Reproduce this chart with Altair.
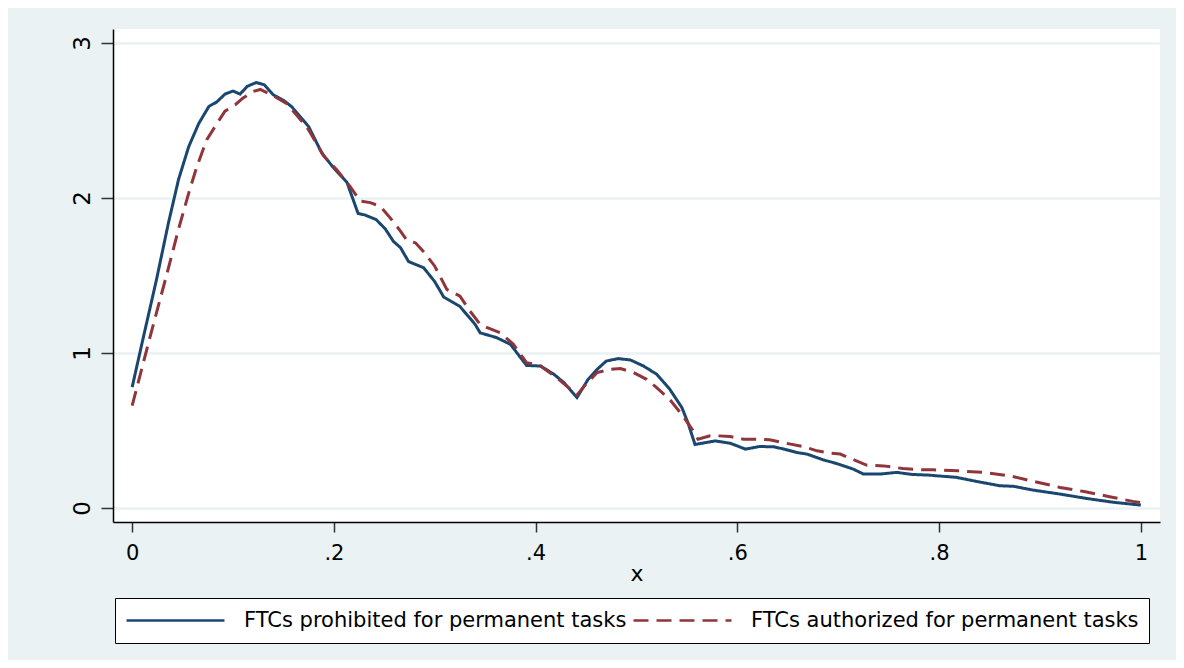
import altair as alt
import pandas as pd

# Series: FTCs prohibited for permanent tasks (solid navy)
x_prohibited = [0.000, 0.010, 0.024, 0.036, 0.046, 0.056, 0.066, 0.076, 0.084, 0.092,
                0.100, 0.107, 0.114, 0.123, 0.131, 0.140, 0.150, 0.158, 0.175, 0.188,
                0.199, 0.213, 0.224, 0.231, 0.242, 0.251, 0.259, 0.266, 0.274, 0.289,
                0.300, 0.309, 0.325, 0.340, 0.345, 0.361, 0.375, 0.391, 0.405, 0.418,
                0.428, 0.441, 0.452, 0.461, 0.470, 0.482, 0.494, 0.507, 0.520, 0.533,
                0.545, 0.551, 0.558, 0.578, 0.593, 0.608, 0.622, 0.636, 0.649, 0.659,
                0.669, 0.685, 0.698, 0.715, 0.725, 0.741, 0.758, 0.773, 0.791, 0.798,
                0.817, 0.837, 0.860, 0.874, 0.893, 0.920, 0.946, 0.973, 1.000]
y_prohibited = [0.78, 1.07, 1.47, 1.84, 2.12, 2.33, 2.48, 2.59, 2.62, 2.67,
                2.69, 2.67, 2.72, 2.745, 2.73, 2.665, 2.63, 2.59, 2.46, 2.29,
                2.20, 2.10, 1.90, 1.89, 1.86, 1.80, 1.72, 1.68, 1.59, 1.55,
                1.46, 1.36, 1.30, 1.185, 1.13, 1.10, 1.056, 0.92, 0.916, 0.863,
                0.81, 0.713, 0.83, 0.895, 0.948, 0.964, 0.955, 0.916, 0.863, 0.766,
                0.648, 0.55, 0.41, 0.433, 0.418, 0.38, 0.397, 0.395, 0.376, 0.358,
                0.348, 0.311, 0.288, 0.251, 0.219, 0.219, 0.23, 0.217, 0.212, 0.208,
                0.198, 0.172, 0.144, 0.14, 0.116, 0.09, 0.062, 0.037, 0.019]

# Series: FTCs authorized for permanent tasks (dashed maroon)
x_authorized = [0.000, 0.018, 0.034, 0.046, 0.056, 0.064, 0.074, 0.084, 0.092, 0.102,
                0.110, 0.120, 0.127, 0.138, 0.153, 0.173, 0.190, 0.203, 0.216, 0.226,
                0.236, 0.246, 0.256, 0.266, 0.272, 0.281, 0.290, 0.300, 0.312, 0.325,
                0.335, 0.345, 0.352, 0.365, 0.378, 0.391, 0.404, 0.421, 0.432, 0.441,
                0.450, 0.461, 0.474, 0.484, 0.497, 0.510, 0.520, 0.533, 0.546, 0.555,
                0.561, 0.573, 0.580, 0.593, 0.606, 0.622, 0.632, 0.649, 0.665, 0.679,
                0.692, 0.702, 0.718, 0.728, 0.745, 0.764, 0.784, 0.794, 0.819, 0.844,
                0.870, 0.895, 0.920, 0.945, 0.969, 0.992, 1.000]
y_authorized = [0.66, 1.11, 1.50, 1.80, 2.03, 2.20, 2.376, 2.48, 2.56, 2.60,
                2.645, 2.687, 2.70, 2.666, 2.61, 2.46, 2.27, 2.18, 2.075, 1.98,
                1.97, 1.946, 1.87, 1.786, 1.73, 1.71, 1.646, 1.56, 1.41, 1.367,
                1.27, 1.185, 1.163, 1.13, 1.056, 0.938, 0.92, 0.84, 0.78, 0.73,
                0.80, 0.874, 0.895, 0.90, 0.874, 0.83, 0.777, 0.70, 0.594, 0.51,
                0.444, 0.466, 0.466, 0.461, 0.444, 0.444, 0.44, 0.417, 0.397, 0.369,
                0.354, 0.348, 0.305, 0.277, 0.272, 0.255, 0.247, 0.247, 0.24, 0.23,
                0.208, 0.17, 0.133, 0.105, 0.073, 0.043, 0.035]

series_names = ["FTCs prohibited for permanent tasks", "FTCs authorized for permanent tasks"]
series_colors = ["#1A476F", "#90353B"]
series_dashes = [[1, 0], [15, 8]]

x_ticks = [0, 0.2, 0.4, 0.6, 0.8, 1]
y_ticks = [0, 1, 2, 3]

rows = []
for xv, yv in zip(x_prohibited, y_prohibited):
    rows.append({"x": xv, "y": yv, "series": series_names[0]})
for xv, yv in zip(x_authorized, y_authorized):
    rows.append({"x": xv, "y": yv, "series": series_names[1]})
df = pd.DataFrame(rows)

FONT = "DejaVu Sans"
BG = "#EAF2F3"


def make_legend():
    return alt.Legend(title=None, orient="none", legendX=2, legendY=569,
                      direction="horizontal", columns=2,
                      symbolType="stroke", symbolSize=9600, clipHeight=25,
                      symbolStrokeWidth=2.5, labelOffset=18,
                      columnPadding=5, padding=10,
                      strokeColor="black", fillColor="white",
                      labelFont=FONT, labelFontSize=21,
                      labelColor="black", labelLimit=600)


chart = alt.Chart(df).mark_line(strokeWidth=3).encode(
    x=alt.X("x:Q",
            scale=alt.Scale(domain=[-0.019, 1.019], nice=False, zero=False),
            axis=alt.Axis(values=x_ticks,
                          labelExpr="datum.value == 0 ? '0' : datum.value == 1 ? '1' : replace(format(datum.value, '.1f'), '0.', '.')",
                          title="x", grid=False, tickSize=10, labelPadding=10,
                          titlePadding=0)),
    y=alt.Y("y:Q",
            scale=alt.Scale(domain=[-0.09, 3.09], nice=False, zero=False),
            axis=alt.Axis(values=y_ticks, format="d", title=None, grid=True,
                          gridColor=BG, gridWidth=2.5, tickSize=12,
                          labelAngle=270, labelAlign="center", labelBaseline="bottom",
                          labelPadding=7, labelFontSize=23)),
    color=alt.Color("series:N", scale=alt.Scale(domain=series_names, range=series_colors),
                    legend=make_legend()),
    strokeDash=alt.StrokeDash("series:N", scale=alt.Scale(domain=series_names, range=series_dashes),
                              legend=make_legend()),
).properties(
    width=1047,
    height=493,
    autosize=alt.AutoSizeParams(type="none"),
    padding={"left": 105, "top": 21, "right": 16, "bottom": 138},
    background=BG,
).configure_view(
    fill="white", stroke=None
).configure_axis(
    labelFont=FONT, labelFontSize=21, labelColor="black",
    titleFont=FONT, titleFontSize=22, titleColor="black", titleFontWeight="normal",
    domainColor="black", domainWidth=1.5, tickColor="#333333", tickWidth=1.5
)

chart.save("out.html", embed_options={"renderer": "svg", "actions": False})
